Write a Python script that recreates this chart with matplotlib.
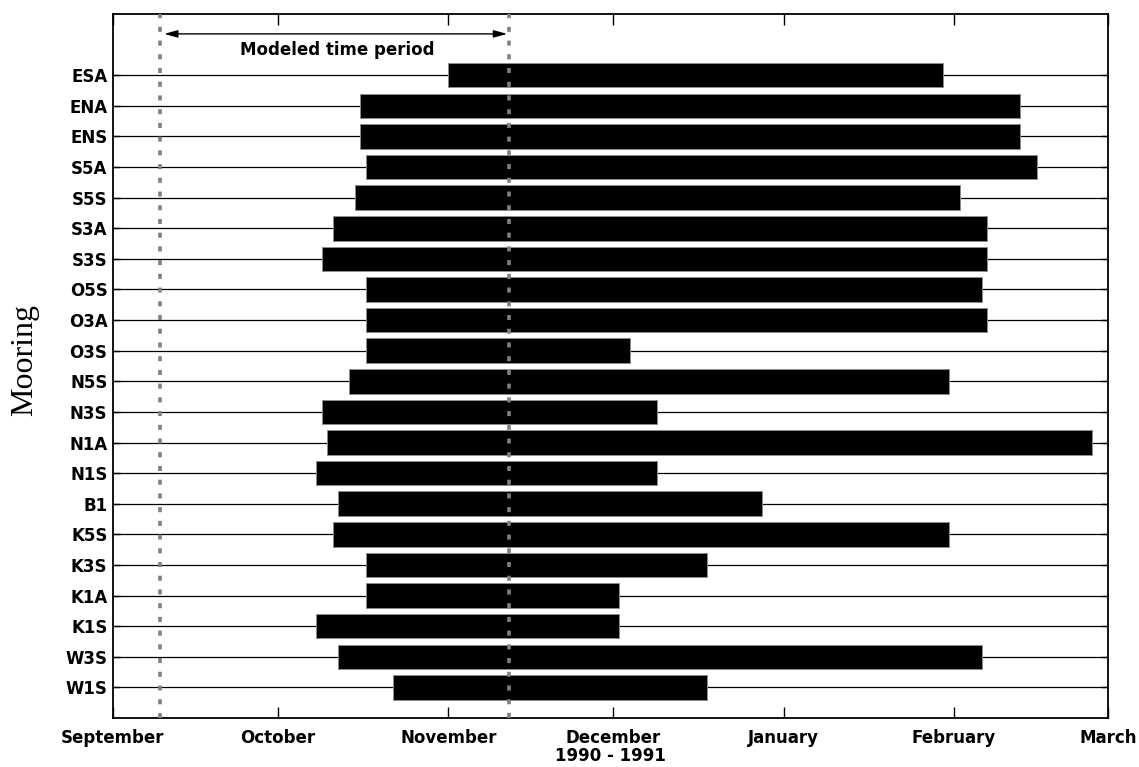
import matplotlib
matplotlib.use("Agg")
import matplotlib.pyplot as plt

# Moorings, top to bottom
moorings = ["ESA", "ENA", "ENS", "S5A", "S5S", "S3A", "S3S", "O5S", "O3A", "O3S",
            "N5S", "N3S", "N1A", "N1S", "B1", "K5S", "K3S", "K1A", "K1S", "W3S", "W1S"]
# Record start / end, in days since 1 September 1990
start_day = [61, 45, 45, 46, 44, 40, 38, 46, 46, 46,
             43, 38, 39, 37, 41, 40, 46, 46, 37, 41, 51]
end_day = [151, 165, 165, 168, 154, 159, 159, 158, 159, 94,
           152, 99, 178, 99, 118, 152, 108, 92, 92, 158, 108]

month_days = [0, 30, 61, 91, 122, 153, 181]
month_labels = ["September", "October", "November", "December", "January", "February", "March"]
model_start, model_end = 8.5, 72.0

FONT = "DejaVu Sans"
FS = 12

fig = plt.figure(figsize=(11.39, 7.67), dpi=100)
ax = fig.add_axes([113 / 1139, 1 - 718 / 767, (1108 - 113) / 1139, (718 - 14) / 767])

n = len(moorings)
ypos = [n - i for i in range(n)]

for y in ypos:
    ax.axhline(y, color="k", lw=0.9, zorder=1)

widths = [e - s for s, e in zip(start_day, end_day)]
ax.barh(ypos, widths, left=start_day, height=0.8, color="k",
        edgecolor="0.55", linewidth=0.7, zorder=2)

for xv in (model_start, model_end):
    ax.axvline(xv, color="0.5", lw=2.6, linestyle=(0, (1.4, 2.4)), zorder=4)

ax.annotate("", xy=(model_start + 0.8, 22.35), xytext=(model_end - 0.3, 22.35),
            arrowprops=dict(arrowstyle="<|-|>,head_length=0.8,head_width=0.22",
                            color="k", lw=1.0, shrinkA=0, shrinkB=0), zorder=5)
ax.text((model_start + model_end) / 2 + 0.5, 21.82, "Modeled time period",
        ha="center", va="center", fontsize=FS, fontweight="bold", family=FONT)

ax.set_xlim(0, 181)
ax.set_ylim(0, 23)
ax.set_xticks(month_days)
ax.set_xticklabels(month_labels, fontsize=FS, fontweight="bold", family=FONT)
ax.set_yticks(ypos)
ax.set_yticklabels(moorings, fontsize=FS, fontweight="bold", family=FONT)
ax.tick_params(axis="x", direction="in", length=8, width=1, top=True, pad=8)
ax.tick_params(axis="y", direction="in", length=5, width=1, right=True, pad=4)
for s in ax.spines.values():
    s.set_linewidth(1.3)

ax.set_xlabel("1990 - 1991", fontsize=FS, fontweight="bold", family=FONT, labelpad=0)
fig.text(25 / 1139, 1 - 360 / 767, "Mooring", rotation=90, ha="center", va="center",
         fontsize=23, family="Liberation Serif")

fig.savefig("out.png", dpi=100)
